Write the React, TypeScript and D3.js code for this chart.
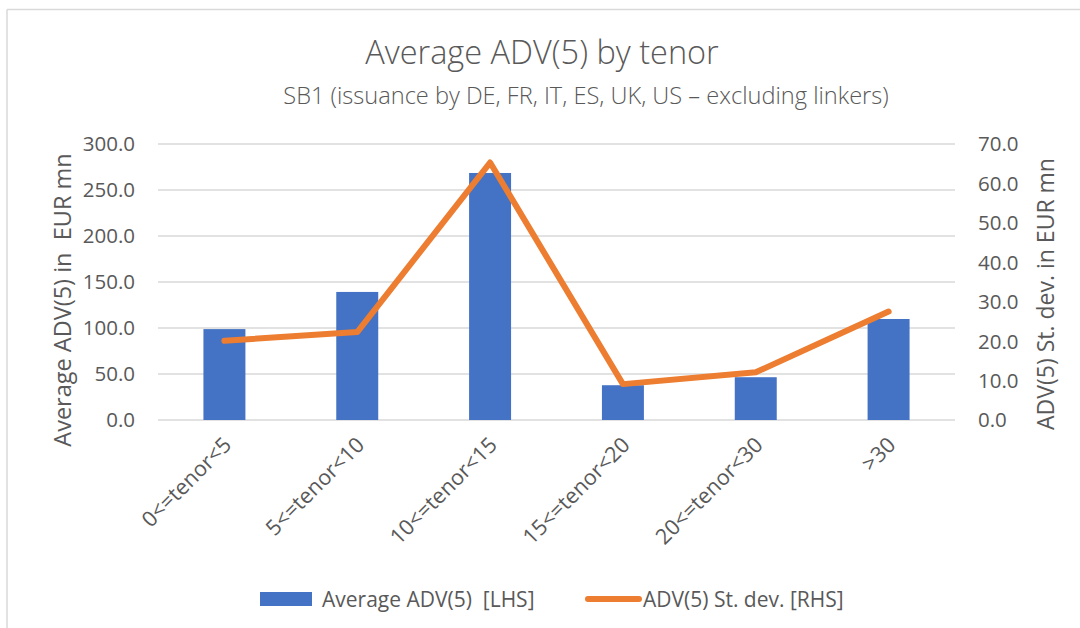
import React from "react";
import * as d3 from "d3";

const categories = ["0<=tenor<5", "5<=tenor<10", "10<=tenor<15", "15<=tenor<20", "20<=tenor<30", ">30"];
const avgAdv = [98.8, 139.2, 268.5, 37.8, 46.5, 109.8];
const stdDev = [20.1, 22.3, 65.3, 9.1, 12.1, 27.5];
const leftTicks = [0, 50, 100, 150, 200, 250, 300];
const rightTicks = [0, 10, 20, 30, 40, 50, 60, 70];

const W = 1080;
const H = 628;
const FONT = "'Open Sans', sans-serif";
const TXT = "#595959";

export default function App() {
  const plot = { left: 158, right: 955, top: 144, bottom: 420 };
  const x = d3.scaleBand<string>().domain(categories).range([plot.left, plot.right]).paddingInner(0.684).paddingOuter(0.342);
  const xc = d3.scaleBand<string>().domain(categories).range([plot.left, plot.right]);
  const yL = d3.scaleLinear().domain([0, 300]).range([plot.bottom, plot.top]);
  const yR = d3.scaleLinear().domain([0, 70]).range([plot.bottom, plot.top]);
  const line = d3
    .line<number>()
    .x((_, i) => (xc(categories[i]) as number) + xc.bandwidth() / 2)
    .y((d) => yR(d));

  return (
    <svg width={W} height={H} style={{ position: "absolute", left: 0, top: 0 }} fontFamily={FONT}>
      <rect x={0} y={0} width={W} height={H} fill="#fff" />
      <line x1={7} y1={9.5} x2={W} y2={9.5} stroke="#d9d9d9" strokeWidth={1.5} />
      <line x1={7} y1={9.5} x2={7} y2={H} stroke="#d9d9d9" strokeWidth={1.5} />

      <text x={542} y={64} textAnchor="middle" fontSize={32.5} fill={TXT} fontWeight={300}>
        Average ADV(5) by tenor
      </text>
      <text x={586} y={104} textAnchor="middle" fontSize={23.6} fill={TXT} fontWeight={300}>
        SB1 (issuance by DE, FR, IT, ES, UK, US – excluding linkers)
      </text>

      {leftTicks.map((t) => (
        <g key={"g" + t}>
          <line x1={plot.left} x2={plot.right} y1={yL(t)} y2={yL(t)} stroke="#d9d9d9" strokeWidth={1.5} />
          <text x={135} y={yL(t)} dy="0.36em" textAnchor="end" fontSize={20.5} fill={TXT}>
            {t.toFixed(1)}
          </text>
        </g>
      ))}
      {rightTicks.map((t) => (
        <text key={"r" + t} x={978} y={yR(t)} dy="0.36em" textAnchor="start" fontSize={20.5} fill={TXT}>
          {t.toFixed(1)}
        </text>
      ))}

      <text transform={`translate(71,${(plot.top + plot.bottom) / 2 + 18}) rotate(-90)`} textAnchor="middle" fontSize={23.5} fill={TXT} style={{ whiteSpace: "pre" }}>
        {"Average ADV(5) in  EUR mn"}
      </text>
      <text transform={`translate(1054,${(plot.top + plot.bottom) / 2 + 12}) rotate(-90)`} textAnchor="middle" fontSize={23} fill={TXT}>
        ADV(5) St. dev. in EUR mn
      </text>

      {categories.map((c, i) => (
        <rect key={c} x={x(c)} y={yL(avgAdv[i])} width={x.bandwidth()} height={yL(0) - yL(avgAdv[i])} fill="#4472c4" />
      ))}

      <path d={line(stdDev) || ""} fill="none" stroke="#ed7d31" strokeWidth={6} strokeLinecap="round" strokeLinejoin="round" />

      {categories.map((c) => {
        const cx = (xc(c) as number) + xc.bandwidth() / 2 + 3;
        return (
          <text key={"x" + c} transform={`translate(${cx},${441}) rotate(-45)`} textAnchor="end" fontSize={21.5} fill={TXT} dy="0.35em">
            {c}
          </text>
        );
      })}

      <rect x={260} y={592} width={52} height={14} fill="#4472c4" />
      <text x={322} y={599} dy="0.36em" fontSize={21} fill={TXT} style={{ whiteSpace: "pre" }}>
        {"Average ADV(5)  [LHS]"}
      </text>
      <line x1={588} x2={639} y1={599} y2={599} stroke="#ed7d31" strokeWidth={6} strokeLinecap="round" />
      <text x={643} y={599} dy="0.36em" fontSize={21} fill={TXT}>
        ADV(5) St. dev. [RHS]
      </text>
    </svg>
  );
}
